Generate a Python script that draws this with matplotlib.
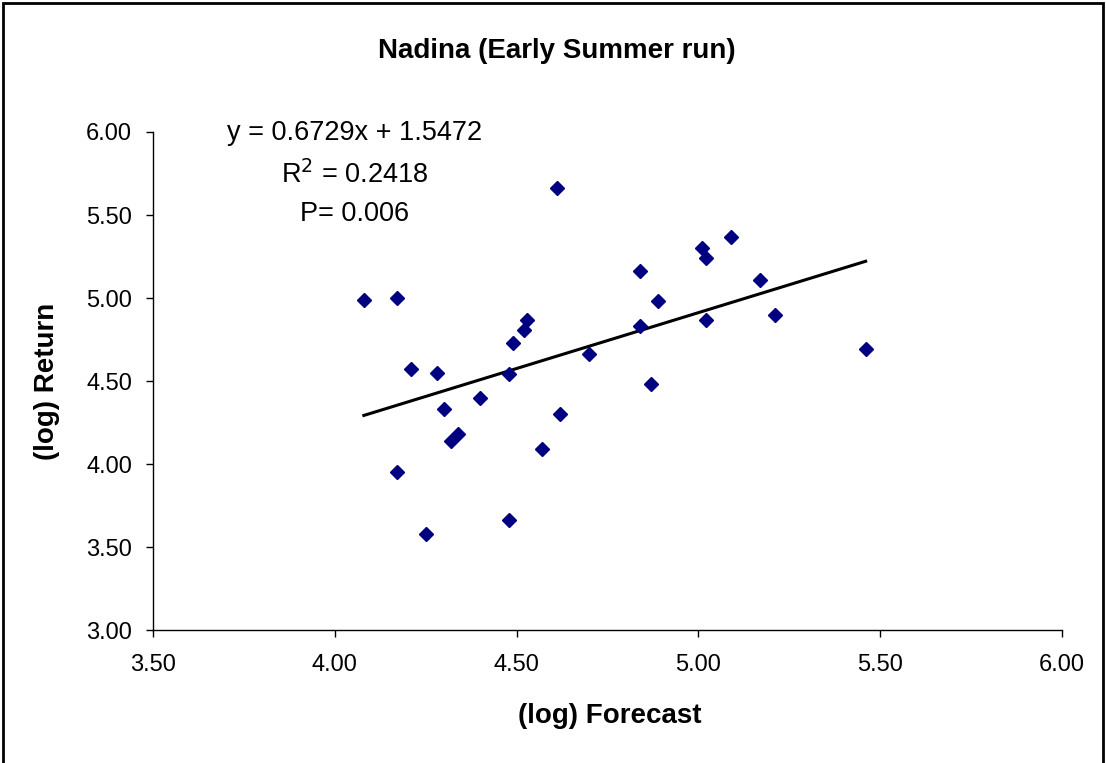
import matplotlib.pyplot as plt
from matplotlib.patches import Rectangle

plt.rcParams['font.family'] = ['Liberation Sans', 'DejaVu Sans']

# (log) forecast vs (log) return
forecast = [4.08, 4.17, 4.21, 4.28, 4.30, 4.32, 4.34, 4.40, 4.17, 4.25,
            4.48, 4.48, 4.49, 4.52, 4.53, 4.57, 4.61, 4.62, 4.70, 4.84,
            4.84, 4.87, 4.89, 5.01, 5.02, 5.02, 5.09, 5.17, 5.21, 5.46]
returns = [4.99, 5.00, 4.57, 4.55, 4.33, 4.14, 4.18, 4.40, 3.95, 3.58,
           3.66, 4.54, 4.73, 4.81, 4.87, 4.09, 5.66, 4.30, 4.66, 5.16,
           4.83, 4.48, 4.98, 5.30, 5.24, 4.87, 5.37, 5.11, 4.90, 4.69]

slope = 0.6729
intercept = 1.5472
ticks = [3.5, 4.0, 4.5, 5.0, 5.5, 6.0]
yticks = [3.0, 3.5, 4.0, 4.5, 5.0, 5.5, 6.0]

fig = plt.figure(figsize=(11.06, 7.63), dpi=100)
ax = fig.add_axes([0.1383, 0.1743, 0.8219, 0.6527])

ax.plot(forecast, returns, linestyle='none', marker='D', markersize=7.5,
        color='#000080', zorder=3)

# trend line over the data range
xmin, xmax = min(forecast), max(forecast)
ax.plot([xmin, xmax], [slope * xmin + intercept, slope * xmax + intercept],
        color='black', linewidth=2.2, zorder=2)

ax.set_xlim(3.5, 6.0)
ax.set_ylim(3.0, 6.0)
ax.set_xticks(ticks)
ax.set_yticks(yticks)
ax.set_xticklabels([f'{t:.2f}' for t in ticks])
ax.set_yticklabels([f'{t:.2f}' for t in yticks])
ax.tick_params(direction='out', length=5, width=1, labelsize=17)
ax.tick_params(axis='x', pad=12)
ax.tick_params(axis='y', pad=10)
for s in ['top', 'right']:
    ax.spines[s].set_visible(False)
for s in ['left', 'bottom']:
    ax.spines[s].set_linewidth(1)

ax.set_xlabel('(log) Forecast', fontsize=20, fontweight='bold', va='center')
ax.set_ylabel('(log) Return', fontsize=20, fontweight='bold', va='center')
ax.xaxis.set_label_coords(0.502, -0.173)
ax.yaxis.set_label_coords(-0.117, 0.5)

fig.text(0.503, 0.933, 'Nadina (Early Summer run)', ha='center', va='center',
         fontsize=20, fontweight='bold')

ax.text(0.222, 0.998, f'y = {slope}x + {intercept}', transform=ax.transAxes,
        ha='center', va='center', fontsize=19.5)
ax.text(0.222, 0.914, r'R$^2$ = 0.2418', transform=ax.transAxes,
        ha='center', va='center', fontsize=19.5)
ax.text(0.222, 0.835, 'P= 0.006', transform=ax.transAxes,
        ha='center', va='center', fontsize=19.5)

fig.patches.append(Rectangle((0.003, -0.01), 0.994, 1.006, transform=fig.transFigure,
                             fill=False, edgecolor='black', linewidth=2))

fig.savefig('out.png', dpi=100)
